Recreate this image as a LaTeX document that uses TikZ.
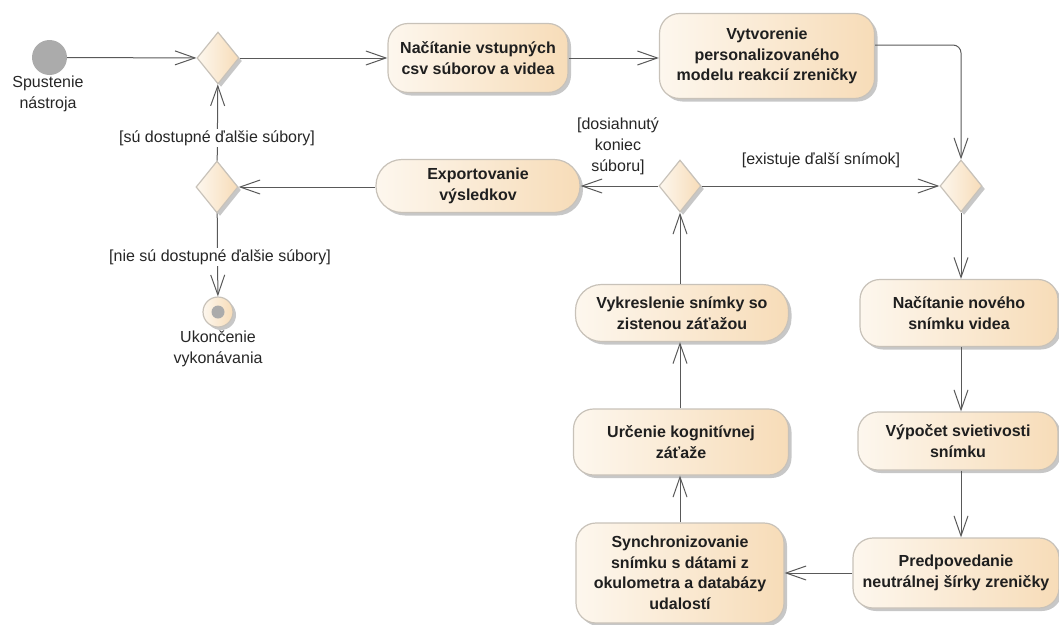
\documentclass[tikz,border=0pt]{standalone}
\usepackage{fontspec}
\setmainfont{Liberation Sans}
\usetikzlibrary{shapes.geometric,arrows.meta,shadows}
\definecolor{cream}{HTML}{FDF7EE}
\definecolor{peach}{HTML}{F7DCB8}
\definecolor{edgegray}{HTML}{C8C2B9}
\definecolor{wire}{HTML}{595959}
\definecolor{startgray}{HTML}{ABABAB}
\begin{document}
\begin{tikzpicture}[x=1pt,y=-1pt,
  shadowed/.style={drop shadow={shadow xshift=3pt,shadow yshift=-3pt,fill=black,opacity=0.22}},
  actbox/.style={rectangle,rounded corners=20pt,left color=cream,right color=peach,draw=edgegray,line width=1.2pt,shadowed,
    font=\fontsize{16}{20.5}\selectfont\bfseries,align=center,text=black!88,inner sep=2pt},
  decbox/.style={diamond,inner sep=0pt,minimum width=42pt,minimum height=52pt,left color=cream,right color=peach,
    draw=edgegray,line width=1.2pt,shadowed},
  guard/.style={font=\fontsize{16}{21}\selectfont,align=center,text=black!85,inner sep=1pt},
  flowarrow/.style={draw=wire,line width=1pt,-{Straight Barb[length=20pt,width=14pt,line width=1pt]}},
]
\useasboundingbox (0,0) rectangle (1059,624);

% start / end
\node[circle,fill=startgray,minimum size=35pt,inner sep=0pt] (start) at (49.5,57.5) {};
\node[guard] (startlbl) at (48,94) {Spustenie\\nástroja};
\node[circle,minimum size=30pt,inner sep=0pt,left color=cream,right color=peach,draw=edgegray,line width=1.2pt,shadowed] (finish) at (218,312) {};
\node[circle,minimum size=13pt,inner sep=0pt,fill=startgray] (finishdot) at (finish.center) {};
\node[guard] (finishlbl) at (218,349) {Ukončenie\\vykonávania};

% decisions
\node[decbox] (d1) at (218,58) {};
\node[decbox] (d4) at (217,187) {};
\node[decbox] (d2) at (680,186) {};
\node[decbox] (d3) at (961,186) {};

% actions
\node[actbox,minimum width=180pt,minimum height=69pt] (a1) at (478,58) {Načítanie vstupných\\csv súborov a videa};
\node[actbox,minimum width=215pt,minimum height=85pt] (a2) at (767,56) {Vytvorenie\\personalizovaného\\modelu reakcií zreničky};
\node[actbox,minimum width=204pt,minimum height=53pt,rounded corners=26pt] (exp) at (478,186) {Exportovanie\\výsledkov};
\node[actbox,minimum width=198pt,minimum height=67pt] (n1) at (959,313) {Načítanie nového\\snímku videa};
\node[actbox,minimum width=200pt,minimum height=58pt] (n2) at (958,441) {Výpočet svietivosti\\snímku};
\node[actbox,minimum width=206pt,minimum height=70pt] (n3) at (956,573) {Predpovedanie\\neutrálnej šírky zreničky};
\node[actbox,minimum width=208pt,minimum height=100pt] (sy) at (680,573) {Synchronizovanie\\snímku s dátami z\\okulometra a databázy\\udalostí};
\node[actbox,minimum width=215pt,minimum height=66pt] (ur) at (681,442) {Určenie kognitívnej\\záťaže};
\node[actbox,minimum width=213pt,minimum height=57pt,rounded corners=26pt] (vy) at (682,313) {Vykreslenie snímky so\\zistenou záťažou};

% connectors
\draw[flowarrow] (start) -- (d1);
\draw[flowarrow] (d1) -- (a1.west |- d1);
\draw[flowarrow] (a1) -- (a2.west |- a1);
\draw[flowarrow,rounded corners=8pt] ([yshift=11pt]a2.east) -| (d3.north);
\draw[flowarrow] (d3) -- (n1.north -| d3);
\draw[flowarrow] (n1.south -| d3) -- (n2.north -| d3);
\draw[flowarrow] (n2.south -| d3) -- (n3.north -| d3);
\draw[flowarrow] (n3.west) -- (sy.east |- n3.west);
\draw[flowarrow] (sy.north -| d2) -- (ur.south -| d2);
\draw[flowarrow] (ur.north -| d2) -- (vy.south -| d2);
\draw[flowarrow] (vy.north -| d2) -- (d2);
\draw[flowarrow] (d2) -- (d3);
\draw[flowarrow] (d2) -- (exp.east |- d2);
\draw[flowarrow] (exp.west |- d4) -- (d4);
\draw[flowarrow] (d4) -- (d1);
\draw[flowarrow] (d4) -- (finish);

% guards
\node[guard] (g1) at (821,160) {[existuje ďalší snímok]};
\node[guard] (g2) at (618,146) {[dosiahnutý\\koniec\\súboru]};
\node[guard,fill=white] (g3) at (217,138) {[sú dostupné ďalšie súbory]};
\node[guard,fill=white] (g4) at (220,257) {[nie sú dostupné ďalšie súbory]};
\end{tikzpicture}
\end{document}
